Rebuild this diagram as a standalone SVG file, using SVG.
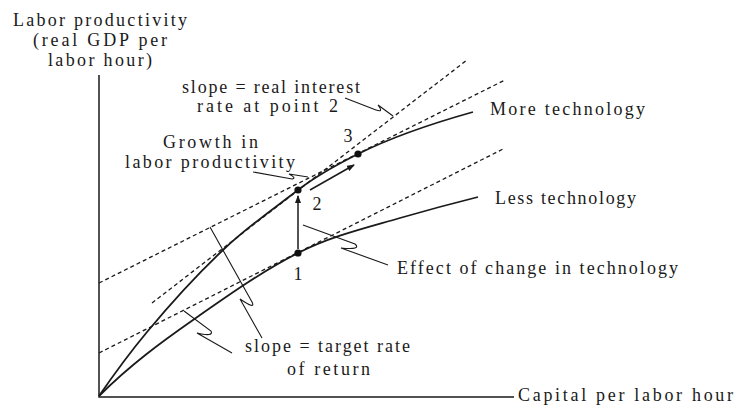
<svg xmlns="http://www.w3.org/2000/svg" width="736" height="407" viewBox="0 0 736 407">
<defs>
<marker id="ah" markerWidth="8" markerHeight="6" refX="7" refY="3" orient="auto" markerUnits="userSpaceOnUse">
<path d="M0,0 L8,3 L0,6 Z" fill="#1a1a1a"/>
</marker>
<style>
text{font-family:"Liberation Serif","Times New Roman",serif;font-size:18px;fill:#1a1a1a}
.ax{stroke:#1a1a1a;stroke-width:1.5;fill:none}
.cv{stroke:#1a1a1a;stroke-width:1.8;fill:none}
.ds{stroke:#1a1a1a;stroke-width:1.3;fill:none;stroke-dasharray:4 3}
.ld{stroke:#1a1a1a;stroke-width:1.1;fill:none}
.ar{stroke:#1a1a1a;stroke-width:1.5;fill:none;marker-end:url(#ah)}
.pt{fill:#111}
</style>
</defs>
<rect width="736" height="407" fill="#ffffff"/>
<g id="axes">
<path class="ax" d="M99,75 L99,397 L514,397"/>
</g>
<g id="curves">
<path id="more-technology-curve" class="cv" d="M99,396 C115,372.8 131,351.2 147,332 C172.3,301.6 197.7,274 223,250 C248,226.25 273,209.25 298,190 C318,174.6 338,164 358,154 C396.3,134.8 434.7,122.7 473,112"/>
<path id="less-technology-curve" class="cv" d="M99,396 C130.3,364.7 161.7,341.9 193,320 C228,295.5 263,270.7 298,253 C332,235.8 366,227.9 400,218 C426,210.5 452,203.5 478,197"/>
</g>
<g id="tangents">
<path class="ds" d="M99,283 L505,80"/>
<path class="ds" d="M152,303 L467,60"/>
<path class="ds" d="M99,353 L505,148"/>
</g>
<g id="connectors">
<path class="ar" d="M298,249 L298,196"/>
<path class="ar" d="M310,190 L354,165"/>
<path class="ld" d="M345,98 L376,110 Q384,113 378,105 L393,116"/>
<path class="ld" d="M253,172 L292,179 Q297,178 289,174 L308,177"/>
<path class="ld" d="M210,227 L252,302 Q256,310 240,299 L262,338"/>
<path class="ld" d="M184,311 L211,331 Q214,337 197,333 L232,353"/>
<path class="ld" d="M303,225 L355,244 Q362,250 341,248 L388,265"/>
</g>
<g id="point-1"><circle class="pt" cx="298" cy="253" r="3.6"/><text x="298" y="280" text-anchor="middle" font-size="17">1</text></g>
<g id="point-2"><circle class="pt" cx="298" cy="190" r="3.6"/><text x="317" y="210" text-anchor="middle" font-size="17">2</text></g>
<g id="point-3"><circle class="pt" cx="358" cy="154" r="3.6"/><text x="348" y="142" text-anchor="middle" font-size="17">3</text></g>
<g id="labels">
<text x="13" y="26" textLength="174" lengthAdjust="spacing">Labor productivity</text>
<text x="33" y="46" textLength="134" lengthAdjust="spacing">(real GDP per</text>
<text x="48" y="66" textLength="104" lengthAdjust="spacing">labor hour)</text>
<text x="182" y="93" textLength="178" lengthAdjust="spacing">slope = real interest</text>
<text x="197" y="112" textLength="141" lengthAdjust="spacing">rate at point 2</text>
<text x="163" y="148" textLength="95" lengthAdjust="spacing">Growth in</text>
<text x="125" y="168" textLength="170" lengthAdjust="spacing">labor productivity</text>
<text x="490" y="115" textLength="155" lengthAdjust="spacing">More technology</text>
<text x="495" y="204" textLength="141" lengthAdjust="spacing">Less technology</text>
<text x="397" y="274" textLength="281" lengthAdjust="spacing">Effect of change in technology</text>
<text x="245" y="352" textLength="165" lengthAdjust="spacing">slope = target rate</text>
<text x="287" y="375" textLength="83" lengthAdjust="spacing">of return</text>
<text x="518" y="401" textLength="215" lengthAdjust="spacing">Capital per labor hour</text>
</g>
</svg>
